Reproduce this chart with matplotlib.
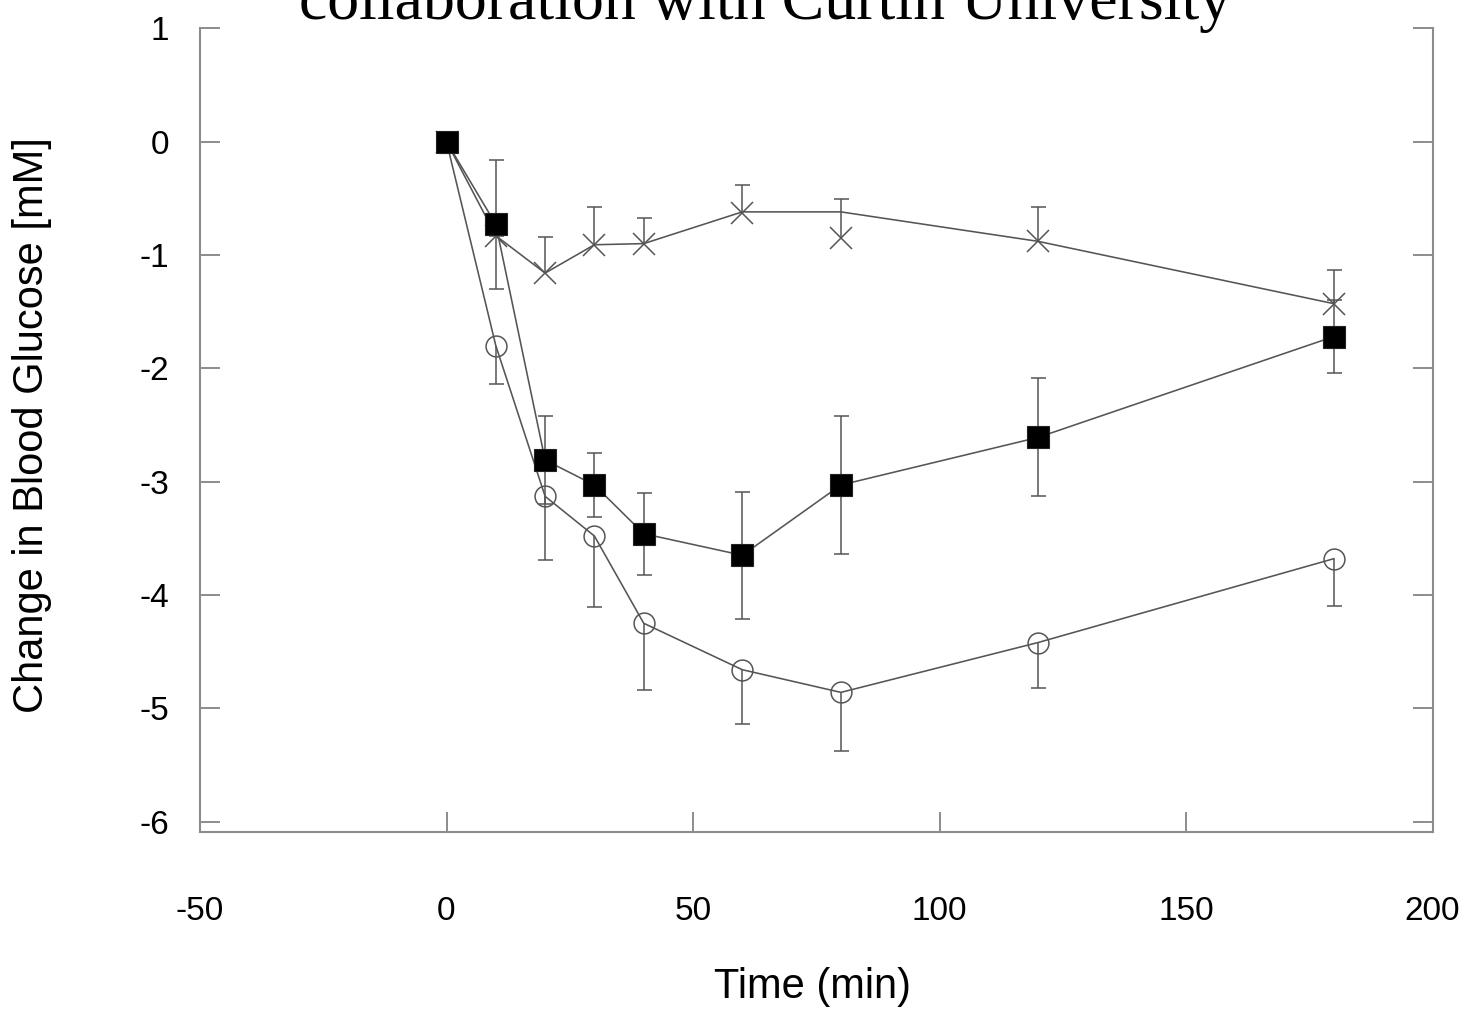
import numpy as np
import matplotlib
matplotlib.use("Agg")
import matplotlib.pyplot as plt

# Sampling times (min)
time_min = [0, 10, 20, 30, 40, 60, 80, 120, 180]

# Filled squares: mean change and symmetric SEM
square_mean = [0.0, -0.73, -2.81, -3.03, -3.46, -3.65, -3.03, -2.61, -1.72]
square_err = [0.0, 0.57, 0.39, 0.28, 0.36, 0.56, 0.61, 0.52, 0.32]

# Open circles: mean change and SEM (drawn downward)
circle_mean = [0.0, -1.80, -3.13, -3.48, -4.25, -4.66, -4.86, -4.42, -3.68]
circle_err = [0.0, 0.34, 0.56, 0.63, 0.59, 0.48, 0.52, 0.40, 0.42]

# Crosses: marker means, SEM (drawn upward) and the connecting trace
cross_mean = [0.0, -0.83, -1.16, -0.91, -0.90, -0.63, -0.85, -0.88, -1.43]
cross_err = [0.0, 0.0, 0.32, 0.33, 0.23, 0.25, 0.34, 0.30, 0.30]
cross_trace = [0.0, -0.83, -1.16, -0.91, -0.90, -0.62, -0.62, -0.88, -1.43]

x_ticks = [-50, 0, 50, 100, 150, 200]
y_ticks = [1, 0, -1, -2, -3, -4, -5, -6]

title_text = "collaboration with Curtin University"
x_label = "Time (min)"
y_label = "Change in Blood Glucose [mM]"

LINE = "#555555"
FRAME = "#8c8c8c"
sans = ["Liberation Sans", "DejaVu Sans"]
serif = ["Liberation Serif", "DejaVu Serif"]

fig = plt.figure(figsize=(14.65, 10.09), dpi=100)
ax = fig.add_axes([200 / 1465, 1 - 832 / 1009, 1232.5 / 1465, 803.7 / 1009])

t = np.array(time_min, dtype=float)

# connecting lines
ax.plot(t, cross_trace, color=LINE, lw=1.15, zorder=2)
ax.plot(t, circle_mean, color=LINE, lw=1.15, zorder=2)
ax.plot(t, square_mean, color=LINE, lw=1.15, zorder=2)

eb_kw = dict(fmt="none", ecolor=LINE, elinewidth=1.1, capsize=5.4,
             capthick=1.1, zorder=3)

# squares: bars both ways
ax.errorbar(t, square_mean, yerr=square_err, **eb_kw)

# circles: lower bars only
cm = np.array(circle_mean)
ce = np.array(circle_err)
eb = ax.errorbar(t, cm, yerr=[ce, np.zeros_like(ce)], **eb_kw)
eb[1][1].set_visible(False)

# crosses: upper bars only
xm = np.array(cross_mean)
xe = np.array(cross_err)
eb = ax.errorbar(t, xm, yerr=[np.zeros_like(xe), xe], **eb_kw)
eb[1][0].set_visible(False)

# markers
ax.plot(t, circle_mean, ls="none", marker="o", ms=15, mfc="none",
        mec=LINE, mew=1.1, zorder=4)
ax.plot(t, cross_mean, ls="none", marker="x", ms=16, mec=LINE,
        mew=1.1, zorder=4)
ax.plot(t, square_mean, ls="none", marker="s", ms=15.5, mfc="black",
        mec="#222222", mew=0.8, zorder=5)

ax.set_xlim(-50, 200)
ax.set_ylim(-6.092, 1.0)
ax.set_xticks(x_ticks)
ax.set_yticks(y_ticks)
ax.set_xticklabels([str(v) for v in x_ticks], fontfamily=sans, fontsize=24)
ax.set_yticklabels([str(v) for v in y_ticks], fontfamily=sans, fontsize=24)

ax.spines["top"].set_visible(False)
for side in ("left", "right", "bottom"):
    ax.spines[side].set_color(FRAME)
    ax.spines[side].set_linewidth(1.5)

ax.tick_params(axis="y", which="both", direction="in", left=True, right=True,
               length=14.4, width=1.4, color=FRAME, pad=22)
ax.tick_params(axis="x", which="both", direction="in", bottom=True, top=False,
               length=14.4, width=1.4, color=FRAME, pad=46)

# hide the ticks that sit on the frame ends
xt = ax.xaxis.get_major_ticks()
xt[0].tick1line.set_visible(False)
xt[-1].tick1line.set_visible(False)

ax.set_xlabel(x_label, fontfamily=sans, fontsize=30)
ax.xaxis.set_label_coords(0.497, -0.168)
ax.set_ylabel(y_label, fontfamily=sans, fontsize=30, va="center")
ax.yaxis.set_label_coords(-0.136, 0.506)

fig.text(765 / 1465, 1 - 19 / 1009, title_text, fontfamily=serif,
         fontsize=46, ha="center", va="baseline", color="black")

fig.savefig("out.png", dpi=100, facecolor="white")
